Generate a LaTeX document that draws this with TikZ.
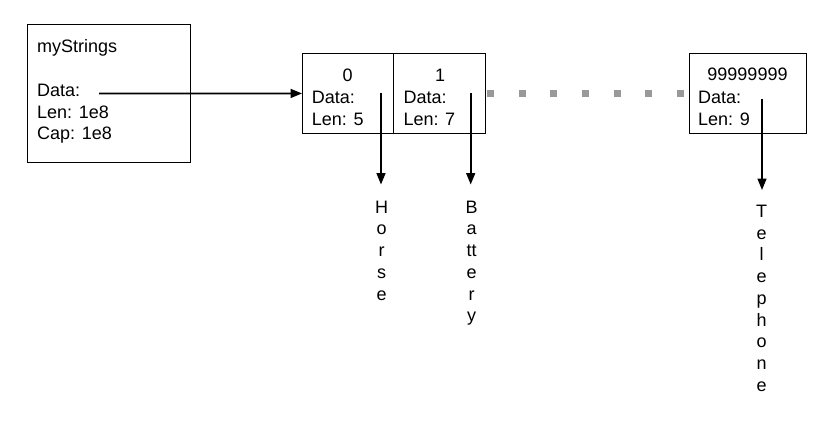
\documentclass[tikz,border=0pt]{standalone}
\usepackage{fontspec}
\setmainfont{Liberation Sans}
\usetikzlibrary{arrows.meta}
\begin{document}
\begin{tikzpicture}[x=1pt,y=-1pt,
  box/.style={draw=black,line width=0.9pt,inner sep=0pt,anchor=north west},
  txt/.style={font=\fontsize{18}{21.7}\selectfont,inner sep=0pt},
  lbl/.style={txt,anchor=base west},
  ctr/.style={txt,anchor=base},
  word/.style={txt,align=center,anchor=north},
  ptr/.style={line width=1.6pt,-{Triangle[length=11.5pt,width=9pt]}},
  dots/.style={line width=7pt,draw=black!40,dash pattern=on 7pt off 24.7pt}]
\useasboundingbox (0,0) rectangle (827,423);
% myStrings header
\node[box,minimum width=163pt,minimum height=138pt] (ms) at (27,24) {};
\node[lbl] (msname) at (37,52) {myStrings};
\node[lbl] (msdatal) at (37,96) {Data:};
\node[lbl] (mslen) at (37,118) {Len: 1e8};
\node[lbl] (mscap) at (37,139) {Cap: 1e8};
\coordinate (msdata) at (99,93.5);
% array cells
\node[box,minimum width=91pt,minimum height=80pt] (c0) at (302,53) {};
\node[box,minimum width=92pt,minimum height=80pt] (c1) at (393,53) {};
\node[box,minimum width=117pt,minimum height=80pt] (cn) at (689,53) {};
\node[ctr] (i0) at (347.7,81) {0};
\node[lbl] (d0l) at (311.7,103.5) {Data:};
\node[lbl] (l0) at (311.7,125.5) {Len: 5};
\node[ctr] (i1) at (440,81) {1};
\node[lbl] (d1l) at (403.3,103.5) {Data:};
\node[lbl] (l1) at (403.3,125.5) {Len: 7};
\node[ctr] (in) at (747.5,80.5) {99999999};
\node[lbl] (dnl) at (698,103.5) {Data:};
\node[lbl] (ln) at (698,125.5) {Len: 9};
% pointer origins
\coordinate (p0) at (381,93);
\coordinate (p1) at (470.7,93);
\coordinate (pn) at (762,99);
% strings
\node[word] (horse) at (381.7,200.7) {H\\o\\r\\s\\e};
\node[word] (battery) at (471.7,200.7) {B\\a\\tt\\e\\r\\y};
\node[word] (telephone) at (761.7,205) {T\\e\\l\\e\\p\\h\\o\\n\\e};
\coordinate (t0) at (381,184.5);
\coordinate (t1) at (470.7,184.5);
\coordinate (tn) at (762,190);
% connectors
\draw[ptr] (msdata) -- (c0.west);
\draw[ptr] (p0) -- (t0);
\draw[ptr] (p1) -- (t1);
\draw[ptr] (pn) -- (tn);
\draw[dots] (c1.east) ++(1pt,0) -- (cn.west);
\end{tikzpicture}
\end{document}
